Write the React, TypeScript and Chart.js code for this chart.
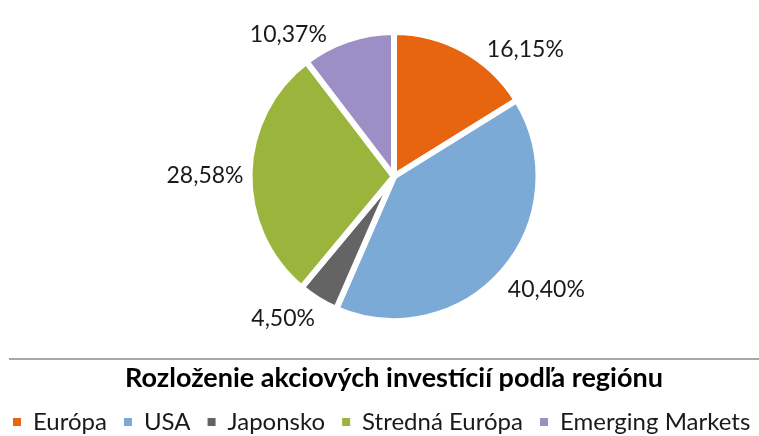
import React, { useEffect, useRef } from "react";
import { Chart, registerables } from "chart.js";

Chart.register(...registerables);

const categories = ["Európa", "USA", "Japonsko", "Stredná Európa", "Emerging Markets"];
const shares = [16.15, 40.4, 4.5, 28.58, 10.37];
const colors = ["#E8650F", "#7BAAD6", "#646464", "#9AB43C", "#9B8FC5"];
const chartTitle = "Rozloženie akciových investícií podľa regiónu";

const FONT = "Lato, 'Open Sans', sans-serif";

const formatPct = (v: number) => v.toFixed(2).replace(".", ",") + "%";

// shifts the plot area (pie) to the right without moving full-width title/legend
const plotShift = {
  id: "plotShift",
  afterLayout(chart: any, _args: any, opts: any) {
    const dx = opts.left || 0;
    chart.chartArea.left += dx;
    chart.chartArea.width = chart.chartArea.right - chart.chartArea.left;
  },
};

const outsideLabels = {
  id: "outsideLabels",
  afterDatasetsDraw(chart: any, _args: any, opts: any) {
    const ctx = chart.ctx;
    const meta = chart.getDatasetMeta(0);
    const ds = chart.data.datasets[0];
    const data = ds.data as number[];
    const bw = ds.borderWidth || 0;
    const nudge = ((opts.topNudgeDeg || 0) * Math.PI) / 180;
    ctx.save();
    ctx.font = `23px ${FONT}`;
    ctx.fillStyle = "#1a1a1a";
    ctx.textAlign = "center";
    ctx.textBaseline = "middle";
    meta.data.forEach((arc: any, i: number) => {
      const { x, y, startAngle, endAngle, outerRadius } = arc.getProps(
        ["x", "y", "startAngle", "endAngle", "outerRadius"],
        true
      );
      let mid = (startAngle + endAngle) / 2;
      // labels near the top are slid toward the side so they stay inside the plot
      if (Math.sin(mid) < -0.7) mid += Math.cos(mid) > 0 ? nudge : -nudge;
      const c = Math.cos(mid);
      const s = Math.sin(mid);
      const r = outerRadius - bw / 2 + 9;
      const px = x + r * c;
      const py = y + r * s;
      const text = formatPct(data[i]);
      const w = ctx.measureText(text).width;
      const h = 23;
      const clamp = (v: number) => Math.max(-1, Math.min(1, v));
      const cx = px + (w / 2) * clamp(c * 2);
      const cy = py + (h / 2) * clamp(s * 2) + 3;
      ctx.fillText(text, cx, cy);
    });
    ctx.restore();
  },
};

const titleRule = {
  id: "titleRule",
  afterDraw(chart: any) {
    const tb = chart.titleBlock;
    if (!tb) return;
    const ctx = chart.ctx;
    ctx.save();
    ctx.strokeStyle = "#A6A6A6";
    ctx.lineWidth = 2;
    const y = tb.top + 35;
    ctx.beginPath();
    ctx.moveTo(9, y);
    ctx.lineTo(chart.width, y);
    ctx.stroke();
    ctx.restore();
  },
};

export default function App() {
  const ref = useRef<HTMLCanvasElement | null>(null);

  useEffect(() => {
    document.body.style.margin = "0";
    const canvas = ref.current;
    if (!canvas) return;
    const baseGen = (Chart as any).overrides.pie.plugins.legend.labels.generateLabels;
    const chart = new Chart(canvas, {
      type: "pie",
      data: {
        labels: categories,
        datasets: [
          {
            data: shares,
            backgroundColor: colors,
            borderColor: "#ffffff",
            borderWidth: 6,
          },
        ],
      },
      options: {
        responsive: false,
        animation: false,
        layout: { padding: { top: 29, left: -4, right: -33, bottom: -8 } },
        plugins: {
          tooltip: { enabled: false },
          plotShift: { left: 29 },
          outsideLabels: { topNudgeDeg: 9 },
          title: {
            display: true,
            text: chartTitle,
            position: "bottom",
            weight: 500,
            color: "#000000",
            font: { family: FONT, size: 27, weight: "bold", lineHeight: 1 },
            padding: { top: 41, bottom: 1 },
          },
          legend: {
            display: true,
            position: "bottom",
            align: "start",
            weight: 1000,
            labels: {
              color: "#1a1a1a",
              boxWidth: 8,
              boxHeight: 8,
              padding: 17,
              font: { family: FONT, size: 24 },
              generateLabels: (ch: any) =>
                baseGen(ch).map((l: any) => ({ ...l, lineWidth: 0, strokeStyle: "transparent" })),
            },
          },
        },
      } as any,
      plugins: [plotShift, outsideLabels, titleRule],
    });
    return () => chart.destroy();
  }, []);

  return (
    <div style={{ width: 759, height: 436 }}>
      <canvas ref={ref} width={759} height={436} style={{ display: "block" }} />
    </div>
  );
}
